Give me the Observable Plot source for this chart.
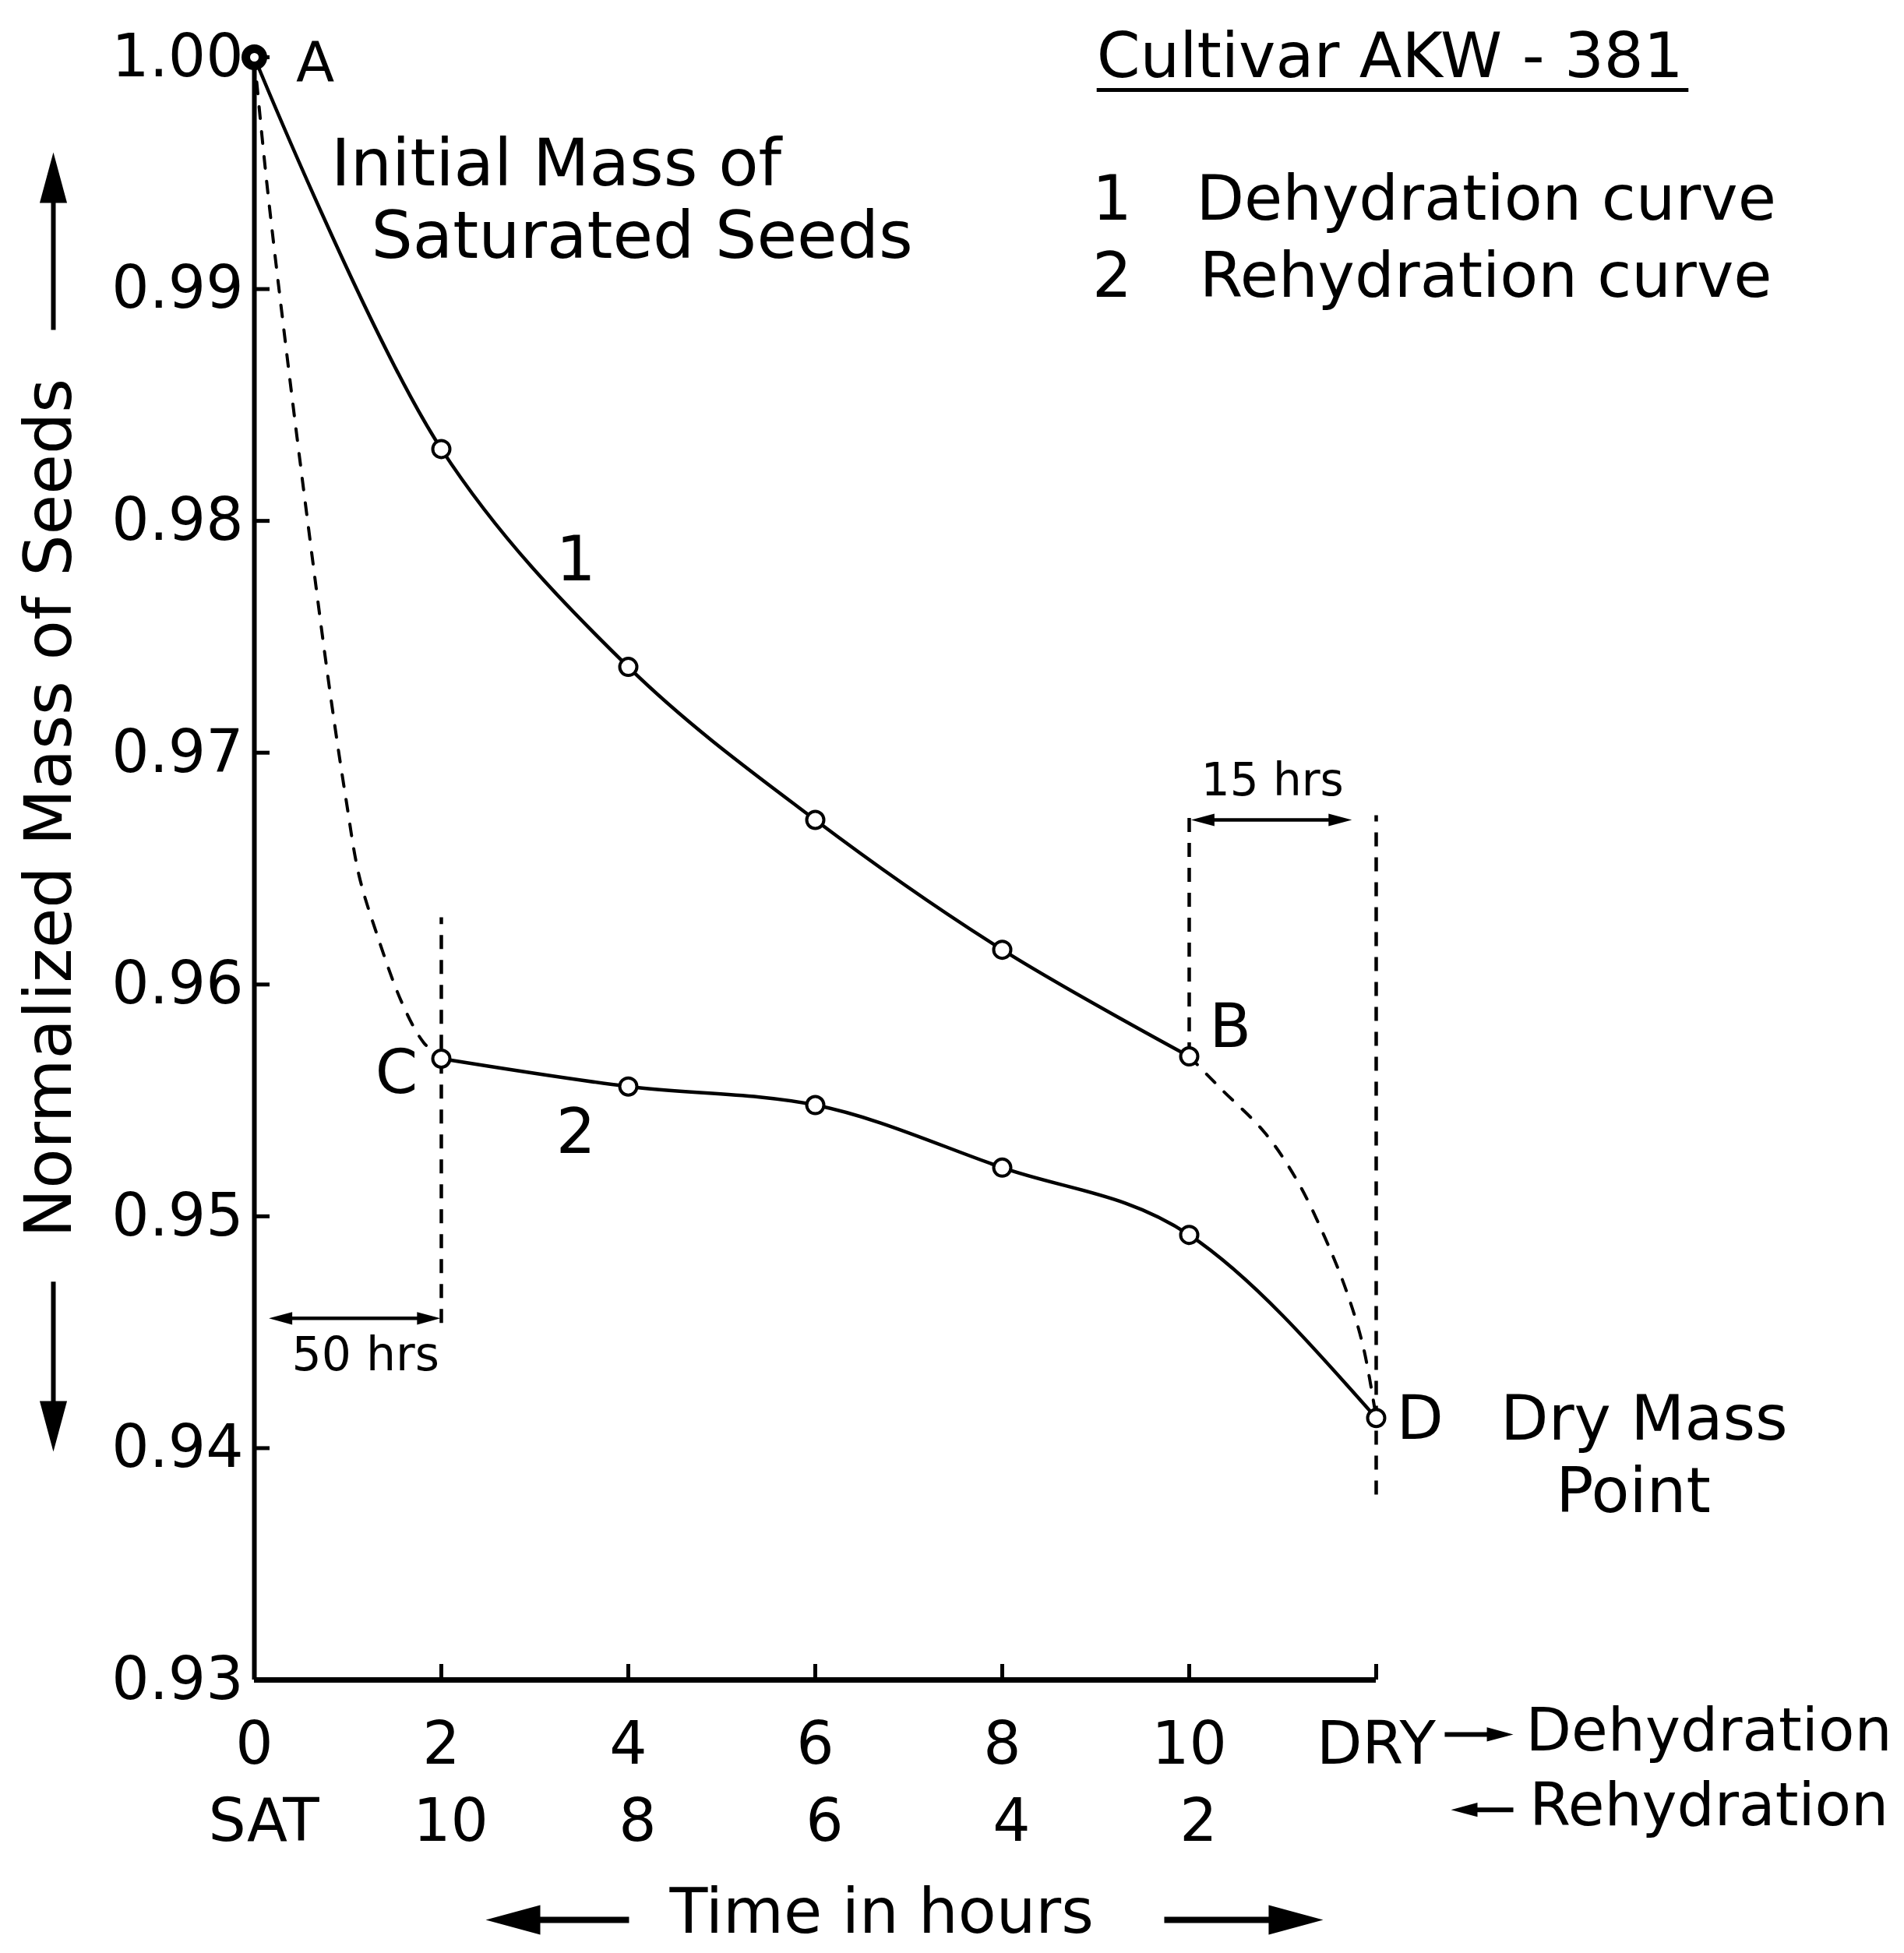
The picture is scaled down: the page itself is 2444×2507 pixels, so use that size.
<!DOCTYPE html>
<html>
<head>
<meta charset="utf-8">
<script src="https://cdn.jsdelivr.net/npm/d3@7"></script>
<script src="https://cdn.jsdelivr.net/npm/@observablehq/plot@0.6"></script>
<style>html,body{margin:0;padding:0;background:#fff}</style>
</head>
<body>
<div id="chart"></div>
<script>
// ---- data ----
const dehydrationHours = [0, 2, 4, 6, 8, 10];
const dehydrationMass  = [1.000, 0.9831, 0.9737, 0.9671, 0.9615, 0.9569];
const rehydrationHours = [2, 4, 6, 8, 10, 12];
const rehydrationMass  = [0.9568, 0.9556, 0.9548, 0.9521, 0.9492, 0.9413];
// dashed: saturated (A) -> C
const saturationPathHours = [0, 0.13, 0.35, 0.56, 0.81, 0.98, 1.12, 1.30, 1.58, 1.81, 2];
const saturationPathMass  = [1.000, 0.9947, 0.9871, 0.9803, 0.9726, 0.9680, 0.9647, 0.9623, 0.9592, 0.9575, 0.9568];
// dashed: B -> D (dry)
const dryingPathHours = [10, 10.34, 10.81, 11.16, 11.45, 11.68, 11.86, 12];
const dryingPathMass  = [0.9569, 0.9555, 0.9536, 0.9515, 0.9491, 0.9468, 0.9444, 0.9413];

const xTicks = [0, 2, 4, 6, 8, 10, 12];
const dehydrationTickLabels = ["0", "2", "4", "6", "8", "10", "DRY"];
const rehydrationTickLabels = ["SAT", "10", "8", "6", "4", "2", ""];
const yTicks = [0.93, 0.94, 0.95, 0.96, 0.97, 0.98, 0.99, 1.00];
const yTickLabels = ["0.93", "0.94", "0.95", "0.96", "0.97", "0.98", "0.99", "1.00"];

// vertical dashed guides
const guideHours  = [2, 10, 12];
const guideTop    = [0.9629, 0.9673, 0.9673];
const guideBottom = [0.9454, 0.9569, 0.9380];

// double-headed interval arrows
const intervalStart = [0.155, 10.02];
const intervalEnd   = [1.99, 11.74];
const intervalLevel = [0.9456, 0.9671];

// single arrows (axis titles, direction hints)
const arrowTailX = [-2.15, -2.15, 4.008, 9.733, 12.733, 13.467];
const arrowTailY = [0.98824, 0.94718, 0.91965, 0.91965, 0.92765, 0.9244];
const arrowNeckX = [-2.15, -2.15, 2.7, 11.2, 13.25, 13.0];
const arrowNeckY = [0.9948, 0.9409, 0.91965, 0.91965, 0.92765, 0.9244];
const arrowTipX  = [-2.15, -2.15, 2.475, 11.433, 13.467, 12.8];
const arrowTipY  = [0.9959, 0.93985, 0.91965, 0.91965, 0.92765, 0.9244];
const arrowHeadLength = [65, 65, 70, 70, 34, 34];
const arrowShaftWidth = [6, 6, 8, 8, 6, 6];

// annotations
const noteLabels = ["A", "Initial Mass of", "Saturated Seeds", "1", "2", "B", "C", "D", "Dry Mass", "Point",
  "Cultivar AKW - 381", "1", "2", "Dehydration curve", "Rehydration curve",
  "Dehydration", "Rehydration", "Time in hours", "50 hrs", "15 hrs"];
const noteX = [0.65, 0.82, 1.25, 3.44, 3.44, 10.44, 1.52, 12.47, 13.33, 14.75,
  9.01, 9.175, 9.175, 10.075, 10.11, 13.6, 13.64, 6.71, 1.19, 10.89];
const noteY = [0.99976, 0.99536, 0.99224, 0.97829, 0.95358, 0.95813, 0.95615, 0.94123, 0.94123, 0.93811,
  1.0000, 0.99385, 0.99052, 0.99385, 0.99052, 0.92778, 0.92456, 0.91995, 0.94399, 0.96879];
const noteAnchor = ["middle", "start", "start", "middle", "middle", "middle", "middle", "middle", "start", "middle",
  "start", "middle", "middle", "start", "start", "start", "start", "middle", "middle", "middle"];
const noteSize = [72, 84, 84, 80, 80, 78, 78, 78, 80, 80,
  80, 80, 80, 80, 80, 76, 76, 80, 60, 58];
const yTitle = ["Normalized Mass of Seeds"];
const yTitleX = [-2.19];
const yTitleY = [0.96761];
const underlineX = [9.01, 15.34];
const underlineY = [0.99859];

// ---- build rows ----
const dehyd = dehydrationHours.map((h, i) => ({h, m: dehydrationMass[i]}));
const rehyd = rehydrationHours.map((h, i) => ({h, m: rehydrationMass[i]}));
const satPath = saturationPathHours.map((h, i) => ({h, m: saturationPathMass[i]}));
const dryPath = dryingPathHours.map((h, i) => ({h, m: dryingPathMass[i]}));
const guides = guideHours.map((h, i) => ({h, top: guideTop[i], bottom: guideBottom[i]}));
const notes = noteLabels.map((t, i) => ({t, x: noteX[i], y: noteY[i], a: noteAnchor[i], s: noteSize[i]}));
const secondRow = xTicks.map((x, i) => ({x, t: rehydrationTickLabels[i]})).filter(d => d.t !== "");

// filled arrow head whose tip sits at the origin, pointing up before rotation
const arrowHead = {
  draw(ctx, size) {
    const L = Math.sqrt(size), w = L * 0.27;
    ctx.moveTo(0, 0);
    ctx.lineTo(w, L);
    ctx.lineTo(-w, L);
    ctx.closePath();
  }
};
const rOf = L => L / Math.sqrt(Math.PI);

const arrows = arrowTipX.map((tx, i) => {
  const dx = tx - arrowTailX[i], dy = arrowTipY[i] - arrowTailY[i];
  const rot = Math.abs(dx) > 1e-9 ? (dx > 0 ? 90 : -90) : (dy > 0 ? 0 : 180);
  return {x1: arrowTailX[i], y1: arrowTailY[i], x2: arrowNeckX[i], y2: arrowNeckY[i],
          tx, ty: arrowTipY[i], rot, L: arrowHeadLength[i], w: arrowShaftWidth[i]};
});
const intervals = intervalStart.map((s, i) => ({s, e: intervalEnd[i], y: intervalLevel[i]}));

const headMarks = [];
arrows.forEach(a => {
  headMarks.push(Plot.link([a], {x1: "x1", y1: "y1", x2: "x2", y2: "y2", stroke: "black", strokeWidth: a.w}));
  headMarks.push(Plot.dot([a], {x: "tx", y: "ty", rotate: "rot", symbol: arrowHead, r: rOf(a.L), fill: "black", stroke: "none"}));
});
intervals.forEach(iv => {
  headMarks.push(Plot.link([iv], {x1: d => d.s + 0.1, x2: d => d.e - 0.1, y1: "y", y2: "y", stroke: "black", strokeWidth: 4.5}));
  headMarks.push(Plot.dot([iv], {x: "s", y: "y", rotate: -90, symbol: arrowHead, r: rOf(30), fill: "black", stroke: "none"}));
  headMarks.push(Plot.dot([iv], {x: "e", y: "y", rotate: 90, symbol: arrowHead, r: rOf(30), fill: "black", stroke: "none"}));
});

const chart = Plot.plot({
  width: 2444,
  height: 2507,
  marginLeft: 326,
  marginRight: 678,
  marginTop: 73,
  marginBottom: 351,
  x: {domain: [0, 12]},
  y: {domain: [0.93, 1.0]},
  style: {fontFamily: "'DejaVu Sans', sans-serif", background: "#fff", color: "#000"},
  marks: [
    // axes
    Plot.ruleX([0], {y1: 0.93, y2: 1.0, stroke: "black", strokeWidth: 6}),
    Plot.ruleY([0.93], {x1: 0, x2: 12, stroke: "black", strokeWidth: 7}),
    Plot.axisY({ticks: yTicks, anchor: "left", tickSize: -20, tickPadding: 34, strokeWidth: 5,
      fontSize: 76, label: null, tickFormat: d => yTickLabels[yTicks.indexOf(d)]}),
    Plot.axisX({ticks: xTicks, anchor: "bottom", tickSize: -20, tickPadding: 74, strokeWidth: 5,
      fontSize: 76, label: null, tickFormat: d => dehydrationTickLabels[xTicks.indexOf(d)]}),
    Plot.text(secondRow, {x: "x", text: "t", frameAnchor: "bottom", lineAnchor: "middle", dy: 182, dx: 12, fontSize: 76}),
    // guides
    Plot.link(guides, {x1: "h", x2: "h", y1: "bottom", y2: "top", stroke: "black", strokeWidth: 4.5, strokeDasharray: "18,14"}),
    // dashed transition curves
    Plot.line(satPath, {x: "h", y: "m", curve: "catmull-rom", stroke: "black", strokeWidth: 4, strokeDasharray: "15,17"}),
    Plot.line(dryPath, {x: "h", y: "m", curve: "catmull-rom", stroke: "black", strokeWidth: 4, strokeDasharray: "15,17"}),
    // solid curves
    Plot.line(dehyd, {x: "h", y: "m", curve: "catmull-rom", stroke: "black", strokeWidth: 4.5}),
    Plot.line(rehyd, {x: "h", y: "m", curve: "monotone-x", stroke: "black", strokeWidth: 4.5}),
    Plot.dot(dehyd.slice(1), {x: "h", y: "m", r: 11, fill: "white", stroke: "black", strokeWidth: 4}),
    Plot.dot(rehyd, {x: "h", y: "m", r: 11, fill: "white", stroke: "black", strokeWidth: 4}),
    Plot.dot(dehyd.slice(0, 1), {x: "h", y: "m", r: 11, fill: "white", stroke: "black", strokeWidth: 11}),
    // arrows
    ...headMarks,
    // legend underline
    Plot.link([0], {x1: () => underlineX[0], x2: () => underlineX[1], y1: () => underlineY[0], y2: () => underlineY[0], stroke: "black", strokeWidth: 5}),
    // annotations
    Plot.text(notes.filter(d => d.a === "start"), {x: "x", y: "y", text: "t", textAnchor: "start", fontSize: "s"}),
    Plot.text(notes.filter(d => d.a === "middle"), {x: "x", y: "y", text: "t", textAnchor: "middle", fontSize: "s"}),
    Plot.text(yTitle, {x: () => yTitleX[0], y: () => yTitleY[0], text: d => d, rotate: -90, fontSize: 84})
  ]
});
document.getElementById("chart").appendChild(chart);
</script>
</body>
</html>
